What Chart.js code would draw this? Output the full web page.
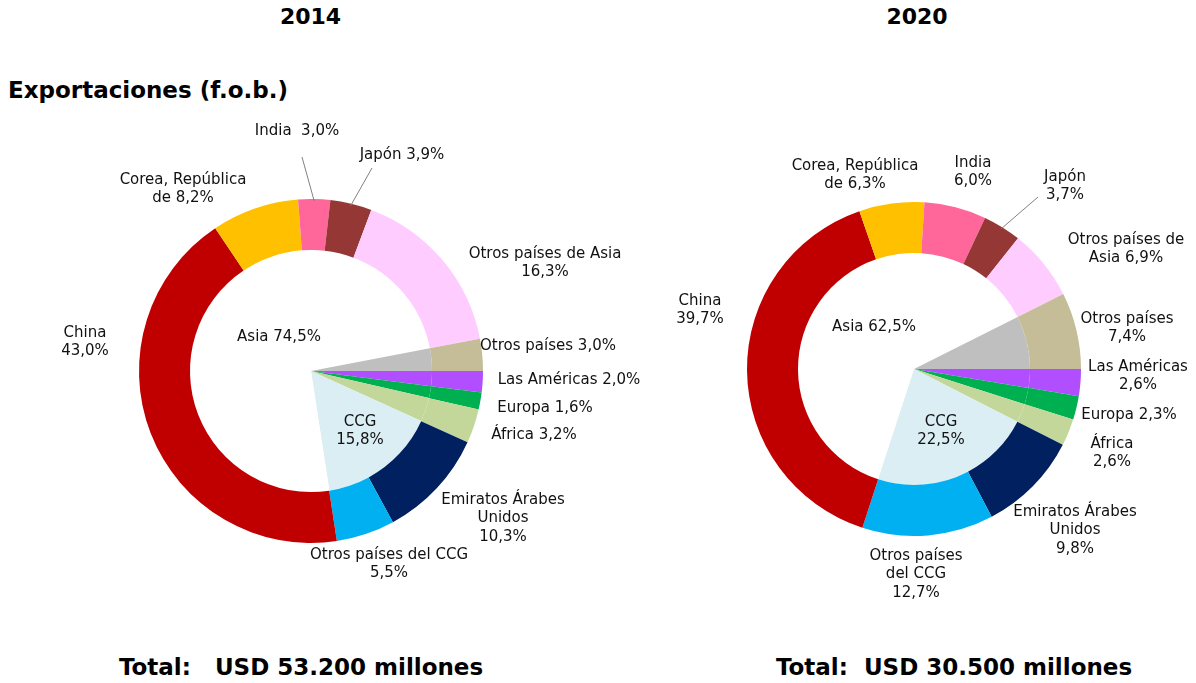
<!DOCTYPE html>
<html><head><meta charset="utf-8">
<script src="https://cdn.jsdelivr.net/npm/chart.js@4.4.0/dist/chart.umd.min.js"></script>
<style>
body{margin:0;background:#fff;width:1196px;height:683px;overflow:hidden;position:relative;font-family:'DejaVu Sans',Verdana,sans-serif;}
.t{position:absolute;font-weight:bold;font-size:22px;color:#000;white-space:pre;line-height:22px}
.b{font-size:23px}
.w{position:absolute;left:0;top:0;width:1196px;height:683px}
</style></head><body>
<div class="t" style="left:0;width:621px;text-align:center;top:6px">2014</div>
<div class="t" style="left:617px;width:600px;text-align:center;top:6px">2020</div>
<div class="t b" style="left:8px;top:79px">Exportaciones (f.o.b.)</div>
<div class="t b" style="left:0;width:602px;text-align:center;top:656px">Total:   USD 53.200 millones</div>
<div class="t b" style="left:654px;width:600px;text-align:center;top:656px">Total:  USD 30.500 millones</div>
<div class="w"><canvas id="c1"></canvas></div>
<div class="w"><canvas id="c2"></canvas></div>
<script>
// Outer ring categories (clockwise from 3 o'clock)
const countries = ['Las Américas','Europa','África','Emiratos Árabes Unidos','Otros países del CCG','China','Corea, República de','India','Japón','Otros países de Asia','Otros países'];
const countries2014 = [2.0, 1.6, 3.2, 10.3, 5.5, 43.0, 8.2, 3.0, 3.9, 16.3, 3.0];
const countries2020 = [2.6, 2.3, 2.6, 9.8, 12.7, 39.7, 6.3, 6.0, 3.7, 6.9, 7.4];
// Inner pie (regions)
const regions = ['Las Américas','Europa','África','CCG','Asia','Otros países'];
const regions2014 = [2.0, 1.6, 3.2, 15.8, 74.5, 3.0];
const regions2020 = [2.6, 2.3, 2.6, 22.5, 62.5, 7.4];

const countryColors = ['#B14EFF','#00B050','#C4D79B','#002060','#00B0F0','#C00000','#FFC000','#FF6699','#953735','#FFCCFF','#C4BD97'];
const regionColors = ['#B14EFF','#00B050','#C4D79B','#DAEEF3','#FFFFFF','#BFBFBF'];

const fmt = v => v.toFixed(1).replace('.', ',');

// label layouts: [datasetIndex, itemIndex, dx, dy, lines (with {v}), leader line start (dx,dy) or null]
const labels2014 = [
  [0,7,-14,-240,['India  {v}'],[-9,-214]],
  [0,8,91,-216,['Japón {v}'],[61,-203]],
  [0,6,-128,-191,['Corea, República','de {v}'],null],
  [0,9,234,-117,['Otros países de Asia','{v}'],null],
  [0,5,-226,-38,['China','{v}'],null],
  [1,4,-32,-34,['Asia {v}'],null],
  [0,10,237,-25,['Otros países {v}'],null],
  [0,0,258,9,['Las Américas {v}'],null],
  [0,1,234,37,['Europa {v}'],null],
  [0,2,223,64,['África {v}'],null],
  [1,3,49,51,['CCG','{v}'],null],
  [0,3,192,129,['Emiratos Árabes','Unidos','{v}'],null],
  [0,4,78,184,['Otros países del CCG','{v}'],null]
];
const labels2020 = [
  [0,6,-59,-203,['Corea, República','de {v}'],null],
  [0,7,59,-206,['India','{v}'],null],
  [0,8,151,-192,['Japón','{v}'],[124,-172]],
  [0,9,212,-129,['Otros países de','Asia {v}'],null],
  [0,5,-214,-68,['China','{v}'],null],
  [1,4,-40,-42,['Asia {v}'],null],
  [0,10,213,-50,['Otros países','{v}'],null],
  [0,0,224,-2,['Las Américas','{v}'],null],
  [0,1,215,46,['Europa {v}'],null],
  [0,2,198,75,['África','{v}'],null],
  [1,3,27,53,['CCG','{v}'],null],
  [0,3,161,143,['Emiratos Árabes','Unidos','{v}'],null],
  [0,4,2,187,['Otros países','del CCG','{v}'],null]
];

const labelPlugin = {
  id: 'labels',
  afterDraw(chart) {
    const ctx = chart.ctx;
    const layout = chart.options.plugins.labels.layout;
    const arc0 = chart.getDatasetMeta(0).data[0];
    const cx = arc0.x, cy = arc0.y;
    ctx.save();
    ctx.font = '15px "DejaVu Sans", Verdana, sans-serif';
    ctx.fillStyle = '#111';
    ctx.textAlign = 'center';
    ctx.textBaseline = 'middle';
    layout.forEach(([ds, idx, dx, dy, lines, lead]) => {
      const v = chart.data.datasets[ds].data[idx];
      lines.forEach((ln, k) => {
        ctx.fillText(ln.replace('{v}', fmt(v) + '%'), cx + dx, cy + dy + k * 18.5);
      });
      if (lead) {
        const el = chart.getDatasetMeta(ds).data[idx];
        const p = el.getProps(['startAngle','endAngle','outerRadius','x','y'], true);
        const a = (p.startAngle + p.endAngle) / 2;
        ctx.beginPath();
        ctx.strokeStyle = '#808080';
        ctx.lineWidth = 1;
        ctx.moveTo(cx + lead[0], cy + lead[1]);
        ctx.lineTo(p.x + Math.cos(a) * (p.outerRadius - 2), p.y + Math.sin(a) * (p.outerRadius - 2));
        ctx.stroke();
      }
    });
    ctx.restore();
  }
};

function makeChart(id, outer, inner, layout, pad, radius, ringW) {
  new Chart(document.getElementById(id), {
    type: 'doughnut',
    data: {
      labels: countries,
      datasets: [
        {data: outer, backgroundColor: countryColors, borderWidth: 0, weight: ringW, clip: false},
        {data: inner, backgroundColor: regionColors, borderWidth: 0, weight: radius - ringW, clip: false}
      ]
    },
    options: {
      responsive: true, maintainAspectRatio: false, animation: false, events: [],
      rotation: 90, cutout: 0, radius: radius, spacing: 0,
      layout: {padding: pad},
      plugins: {legend: {display: false}, tooltip: {enabled: false}, labels: {layout: layout}}
    },
    plugins: [labelPlugin]
  });
}
makeChart('c1', countries2014, regions2014, labels2014, {left:131,right:705,top:191,bottom:132}, 172, 51);
makeChart('c2', countries2020, regions2020, labels2020, {left:734,right:102,top:189,bottom:134}, 167, 51);
</script>
</body></html>
